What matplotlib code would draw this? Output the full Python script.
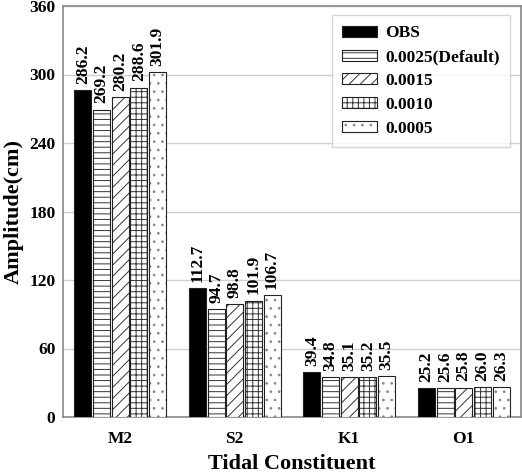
import matplotlib
matplotlib.use("Agg")
import matplotlib.pyplot as plt
import numpy as np

categories = ["M2", "S2", "K1", "O1"]
series_names = ["OBS", "0.0025(Default)", "0.0015", "0.0010", "0.0005"]
obs = [286.2, 112.7, 39.4, 25.2]
default = [269.2, 94.7, 34.8, 25.6]
v0015 = [280.2, 98.8, 35.1, 25.8]
v0010 = [288.6, 101.9, 35.2, 26.0]
v0005 = [301.9, 106.7, 35.5, 26.3]
yticks = [0, 60, 120, 180, 240, 300, 360]

series = [obs, default, v0015, v0010, v0005]
faces = ["black", "white", "white", "white", "white"]
hatches = [None, "---", "///", "+++", ".."]
hcolors = ["black", "#333333", "#333333", "#333333", "#888888"]

plt.rcParams["font.family"] = ["Liberation Serif", "DejaVu Serif"]
plt.rcParams["font.weight"] = "bold"
plt.rcParams["hatch.linewidth"] = 0.7

fig = plt.figure(figsize=(5.22, 4.75), dpi=100)
ax = fig.add_axes([63/522, 1-417/475, (521-63)/522, (417-6)/475])

x = np.arange(len(categories))
stride = 0.163
width = 0.148
handles = []
for i, (vals, fc, h, hc, name) in enumerate(zip(series, faces, hatches, hcolors, series_names)):
    pos = x + (i - 2) * stride
    fillbars = ax.bar(pos, vals, width, color=fc, edgecolor=hc, hatch=h,
                      linewidth=0, zorder=3)
    outline = ax.bar(pos, vals, width, fill=False, edgecolor="#222222",
                     linewidth=0.8, zorder=3.5)
    handles.append((fillbars[0], outline[0]))
    for b, v in zip(outline, vals):
        ax.annotate(f"{v:.1f}", (b.get_x() + b.get_width()/2, v),
                    xytext=(0, 4.5), textcoords="offset points",
                    rotation=90, ha="center", va="bottom",
                    fontsize=12.5, fontweight="bold", zorder=4)

ax.set_xlim(-0.5, 3.5)
ax.set_ylim(0, 360)
ax.set_yticks(yticks)
ax.set_xticks(x)
ax.set_xticklabels(categories)
ax.tick_params(axis="y", length=0, labelsize=12.5, pad=5.5)
ax.tick_params(axis="x", length=0, labelsize=12.5, pad=10)
for lab in ax.get_xticklabels() + ax.get_yticklabels():
    lab.set_fontweight("bold")
ax.yaxis.grid(True, color="#d0d0d0", linewidth=1, zorder=0)
ax.set_axisbelow(True)
for s in ax.spines.values():
    s.set_color("#888888")
    s.set_linewidth(1.2)

ax.set_ylabel("Amplitude(cm)", fontsize=16, fontweight="bold", labelpad=4)
ax.set_xlabel("Tidal Constituent", fontsize=16, fontweight="bold", labelpad=5)

leg = ax.legend(handles, series_names, loc="upper right",
                bbox_to_anchor=(0.976, 0.978), borderaxespad=0,
                fontsize=12.5, frameon=True, fancybox=False, edgecolor="#cccccc",
                handlelength=2.0, handleheight=0.6, labelspacing=0.45,
                borderpad=0.6, handletextpad=0.46)
leg.get_frame().set_linewidth(1)
for t in leg.get_texts():
    t.set_fontweight("bold")

fig.savefig("out.png", dpi=100)
